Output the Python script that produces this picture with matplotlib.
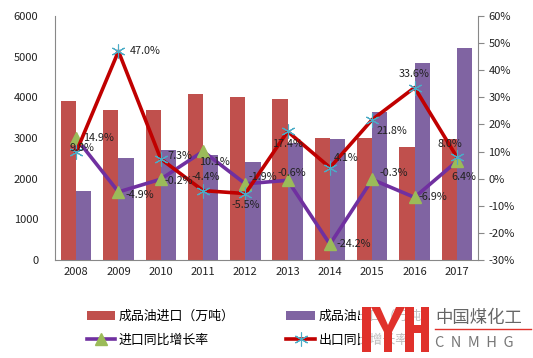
import matplotlib
matplotlib.use("Agg")
import matplotlib.pyplot as plt
import numpy as np
from matplotlib.patches import Polygon, Rectangle

plt.rcParams['font.family'] = ['Noto Sans CJK SC', 'DejaVu Sans']

years = ['2008', '2009', '2010', '2011', '2012', '2013', '2014', '2015', '2016', '2017']
imports = [3900, 3700, 3700, 4070, 4000, 3970, 2990, 2990, 2790, 2970]
exports = [1700, 2500, 2700, 2590, 2420, 2880, 2970, 3630, 4840, 5220]
import_growth = [14.9, -4.9, -0.2, 10.1, -1.9, -0.6, -24.2, -0.3, -6.9, 6.4]
export_growth = [9.8, 47.0, 7.3, -4.4, -5.5, 17.4, 4.1, 21.8, 33.6, 8.0]

# label offsets (points)
imp_off = [(5, 0, 'left', 'center'), (5, -2, 'left', 'center'), (3, -1, 'left', 'center'),
           (-3, -8, 'left', 'center'), (2, 5, 'left', 'center'), (3, 5, 'center', 'center'),
           (5, 0, 'left', 'center'), (5, 5, 'left', 'center'), (3, 0, 'left', 'center'),
           (-4, -11, 'left', 'center')]
exp_off = [(4, 3, 'center', 'center'), (8, 0, 'left', 'center'), (5, 2, 'left', 'center'),
           (2, 10, 'center', 'center'), (0, -8, 'center', 'center'), (0, -9, 'center', 'center'),
           (3, 7, 'left', 'center'), (3, -8, 'left', 'center'), (0, 10, 'center', 'center'),
           (-5, 9, 'center', 'center')]

fig = plt.figure(figsize=(5.33, 3.58), dpi=100)
ax = fig.add_axes([55/533, 1-260/358, 423/533, 244/358])
ax2 = ax.twinx()

x = np.arange(len(years))
w = 0.36
ax.bar(x - w/2, imports, w, color='#C0504D', label='成品油进口（万吨）', zorder=1)
ax.bar(x + w/2, exports, w, color='#8064A2', label='成品油出口（万吨）', zorder=1)
ax.set_xlim(-0.5, len(years) - 0.5)
ax.set_ylim(0, 6000)
ax.set_yticks(range(0, 6001, 1000))
ax.set_xticks(x)
ax.set_xticklabels(years)
ax.tick_params(axis='both', labelsize=8, length=0, colors='#222222', pad=5)
ax.tick_params(axis='y', pad=12)
for s in ['top', 'right']:
    ax.spines[s].set_visible(False)
for s in ['left', 'bottom']:
    ax.spines[s].set_color('#888888')

l1, = ax2.plot(x, import_growth, color='#7030A0', lw=2.6, marker='^', ms=8,
               mfc='#9BBB59', mec='#9BBB59', label='进口同比增长率', zorder=3)
l2, = ax2.plot(x, export_growth, color='#C00000', lw=2.6, marker=(6, 2, 0), ms=10,
               mec='#4BACC6', mfc='#4BACC6', mew=0.8, label='出口同比增长率', zorder=4)
ax2.set_ylim(-30, 60)
ax2.set_yticks(range(-30, 61, 10))
ax2.set_yticklabels([f'{v}%' for v in range(-30, 61, 10)])
ax2.tick_params(axis='y', labelsize=8, length=4, colors='#222222', direction='out')
ax2.tick_params(axis='y', color='#888888')
for s in ['top', 'left', 'bottom']:
    ax2.spines[s].set_visible(False)
ax2.spines['right'].set_color('#888888')

for i, v in enumerate(import_growth):
    dx, dy, ha, va = imp_off[i]
    ax2.annotate(f'{v:.1f}%', (x[i], v), xytext=(dx, dy), textcoords='offset points',
                 ha=ha, va=va, fontsize=7.8, color='#222222', zorder=5)
for i, v in enumerate(export_growth):
    dx, dy, ha, va = exp_off[i]
    ax2.annotate(f'{v:.1f}%', (x[i], v), xytext=(dx, dy), textcoords='offset points',
                 ha=ha, va=va, fontsize=7.8, color='#222222', zorder=5)

h1, lab1 = ax.get_legend_handles_labels()
handles = [h1[0], l1, h1[1], l2]
labels = [lab1[0], '进口同比增长率', lab1[1], '出口同比增长率']
fig.legend(handles, labels, ncol=2, loc='upper left', bbox_to_anchor=(75/533, 1-298/358),
           frameon=False, fontsize=9.3, handlelength=2.2, handletextpad=0.3,
           columnspacing=4.0, labelspacing=0.85)

# watermark logo
lax = fig.add_axes([0, 0, 1, 1], zorder=10)
lax.set_xlim(0, 533)
lax.set_ylim(358, 0)
lax.axis('off')
lax.add_patch(Rectangle((360, 304), 173, 52, color='white', alpha=0.75, lw=0))
red = '#E0312B'
lax.add_patch(Rectangle((362, 307), 9, 45, color=red, lw=0))
lax.add_patch(Polygon([(371, 307), (380, 307), (388, 325), (396, 307), (405, 307), (392, 332), (384, 332)], color=red, lw=0))
lax.add_patch(Rectangle((384, 325), 8, 27, color=red, lw=0))
lax.add_patch(Rectangle((405, 307), 9, 45, color=red, lw=0))
lax.add_patch(Rectangle((405, 325), 23, 8, color=red, lw=0))
lax.add_patch(Rectangle((421, 307), 8, 45, color=red, lw=0))
lax.text(435, 318, '中国煤化工', fontsize=12.5, color='#666666', va='center', ha='left')
lax.plot([435, 531], [329, 329], color=red, lw=1)
lax.text(435, 343, 'C  N  M  H  G', fontsize=10.5, color='#777777', va='center', ha='left')

fig.savefig('out.png', dpi=100)
